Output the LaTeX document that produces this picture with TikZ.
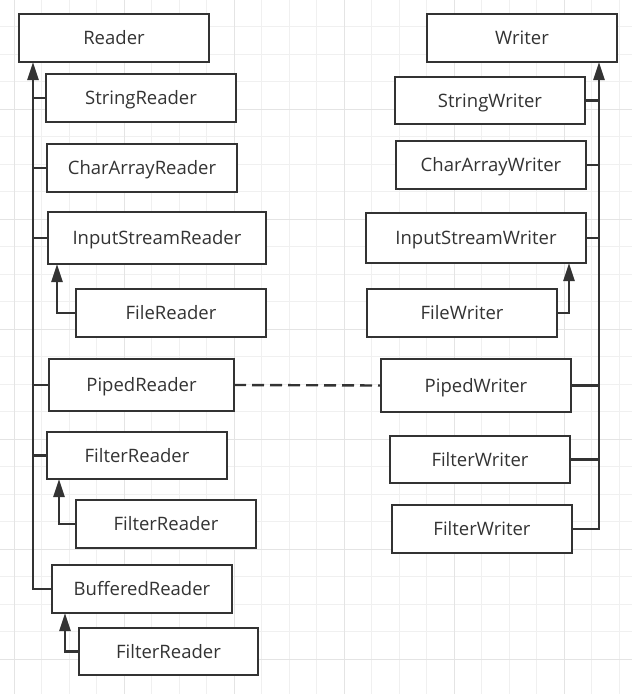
\documentclass[tikz,border=0pt]{standalone}
\usepackage{fontspec}
\setmainfont{Open Sans}
\usetikzlibrary{arrows.meta}
\definecolor{ink}{HTML}{333333}
\definecolor{gridminor}{HTML}{F0F0F0}
\definecolor{gridmajor}{HTML}{E4E4E4}
\begin{document}
\begin{tikzpicture}[x=1pt,y=-1pt,
  cls/.style={draw=ink, line width=2.4pt, fill=white, inner sep=0pt, outer sep=0pt,
    text=ink, font=\fontsize{18.5}{21}\selectfont, text height=13.2pt, text depth=0pt},
  link/.style={draw=ink, line width=2.4pt},
  inh/.style={link, -{Triangle[length=18pt,width=11pt]}},
  assoc/.style={link, dash pattern=on 12pt off 6pt}]
\useasboundingbox (0,0) rectangle (632,694);
% grid
\begin{scope}
\clip (0,0) rectangle (632,694);
\foreach \i in {0,...,23} {
  \draw[gridminor, line width=1pt] (-13.5+27.5*\i,0) -- (-13.5+27.5*\i,694);
  \draw[gridminor, line width=1pt] (0,-1+27.5*\i) -- (632,-1+27.5*\i);
}
\foreach \i in {0,...,6} {
  \draw[gridmajor, line width=1pt] (14+110*\i,0) -- (14+110*\i,694);
  \draw[gridmajor, line width=1pt] (0,-1+110*\i) -- (632,-1+110*\i);
}
\end{scope}
% Reader side
\node[cls, minimum width=190pt, minimum height=48pt] (R) at (114,38) {Reader};
\node[cls, minimum width=190pt, minimum height=48pt] (SR) at (141,98) {StringReader};
\node[cls, minimum width=190pt, minimum height=48pt] (CAR) at (142,168) {CharArrayReader};
\node[cls, minimum width=218pt, minimum height=52pt] (ISR) at (157,238) {InputStreamReader};
\node[cls, minimum width=190pt, minimum height=48pt] (FR) at (171,313) {FileReader};
\node[cls, minimum width=185pt, minimum height=52pt] (PR) at (141.5,385) {PipedReader};
\node[cls, minimum width=180pt, minimum height=47pt] (FiR1) at (137,455.5) {FilterReader};
\node[cls, minimum width=180pt, minimum height=48pt] (FiR2) at (166,524) {FilterReader};
\node[cls, minimum width=180pt, minimum height=48pt] (BR) at (142,589) {BufferedReader};
\node[cls, minimum width=179pt, minimum height=47pt] (FiR3) at (168.5,651.5) {FilterReader};
% Writer side
\node[cls, minimum width=190pt, minimum height=48pt] (W) at (522,38) {Writer};
\node[cls, minimum width=190pt, minimum height=47pt] (SW) at (490,100.5) {StringWriter};
\node[cls, minimum width=190pt, minimum height=48pt] (CAW) at (491,165) {CharArrayWriter};
\node[cls, minimum width=220pt, minimum height=50pt] (ISW) at (476,238) {InputStreamWriter};
\node[cls, minimum width=190pt, minimum height=48pt] (FW) at (462,313) {FileWriter};
\node[cls, minimum width=190pt, minimum height=53pt] (PW) at (476,385.5) {PipedWriter};
\node[cls, minimum width=180pt, minimum height=47pt] (FiW1) at (480,459.5) {FilterWriter};
\node[cls, minimum width=180pt, minimum height=48pt] (FiW2) at (482,529) {FilterWriter};
% trunk coordinates
\coordinate (LT) at ([xshift=14pt]R.south west);
\coordinate (RT) at ([xshift=-18pt]W.south east);
% left hierarchy
\draw[inh] (BR.west) -| (LT);
\foreach \n in {SR,CAR,ISR,PR,FiR1} \draw[link] (\n.west) -- (\n.west -| LT);
\draw[inh] (FR.west) -| ([xshift=9pt]ISR.south west);
\draw[inh] (FiR2.west) -| ([xshift=12pt]FiR1.south west);
\draw[inh] (FiR3.west) -| ([xshift=13pt]BR.south west);
% right hierarchy
\draw[inh] (FiW2.east) -| (RT);
\foreach \n in {SW,CAW,ISW,PW,FiW1} \draw[link] (\n.east) -- (\n.east -| RT);
\draw[inh] (FW.east) -| ([xshift=-17pt]ISW.south east);
% association
\draw[assoc] (PR.east) -- (PW.west);
\end{tikzpicture}
\end{document}
